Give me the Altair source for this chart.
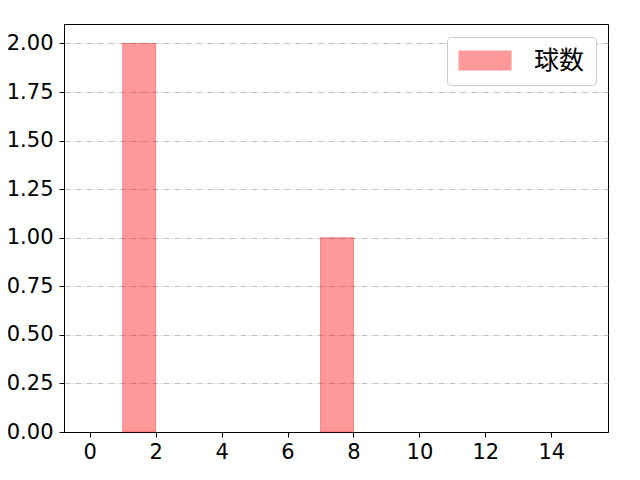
import altair as alt
import pandas as pd

bin_starts = list(range(0, 15))
counts = [0, 2, 0, 0, 0, 0, 0, 1, 0, 0, 0, 0, 0, 0, 0]
series_name = "球数"
x_ticks = [0, 2, 4, 6, 8, 10, 12, 14]
y_ticks = [0, 0.25, 0.5, 0.75, 1.0, 1.25, 1.5, 1.75, 2.0]

df = pd.DataFrame({
    "start": bin_starts,
    "end": [b + 1 for b in bin_starts],
    "count": counts,
    "series": [series_name] * len(bin_starts),
})

FONT = "DejaVu Sans"
CJK = "Noto Sans CJK JP"

chart = alt.Chart(df).transform_filter(
    "datum.count > 0"
).mark_rect(
    fillOpacity=0.4, stroke="#ff0000", strokeOpacity=0.35, strokeWidth=1
).encode(
    x=alt.X("start:Q",
            scale=alt.Scale(domain=[-0.78, 15.72], nice=False, zero=False),
            axis=alt.Axis(values=x_ticks, format="d", title=None, grid=False,
                          labelFontSize=21, labelFont=FONT, labelColor="black",
                          tickColor="black", tickSize=5, domainColor="black",
                          labelPadding=4, labelFlush=False)),
    x2="end:Q",
    y=alt.Y("count:Q",
            scale=alt.Scale(domain=[0, 2.1], nice=False),
            axis=alt.Axis(values=y_ticks, format=".2f", title=None, grid=True,
                          gridColor="#b0b0b0", gridDash=[6, 2, 1, 2], gridWidth=0.8,
                          labelFontSize=21, labelFont=FONT, labelColor="black",
                          tickColor="black", tickSize=5, domainColor="black",
                          labelPadding=6, labelFlush=False)),
    y2=alt.datum(0),
    color=alt.Color("series:N",
                    scale=alt.Scale(domain=[series_name], range=["#ff0000"]),
                    legend=alt.Legend(title=None, orient="none", legendX=383, legendY=13,
                                      symbolType="M-1,-0.83L3.42,-0.83L3.42,0.83L-1,0.83Z",
                                      symbolSize=576, symbolOpacity=0.4,
                                      symbolStrokeWidth=0,
                                      labelFontSize=25, labelFont=CJK, labelColor="black",
                                      labelOffset=51, padding=11, cornerRadius=4,
                                      fillColor="white", strokeColor="#cccccc")),
).properties(
    width=544, height=408,
    autosize=alt.AutoSizeParams(type="none"),
    padding={"left": 56, "top": 16, "right": 24, "bottom": 40},
    background="white",
).configure_view(
    stroke="black", strokeWidth=1
)

chart.save("out.html", embed_options={"renderer": "svg", "actions": False})
